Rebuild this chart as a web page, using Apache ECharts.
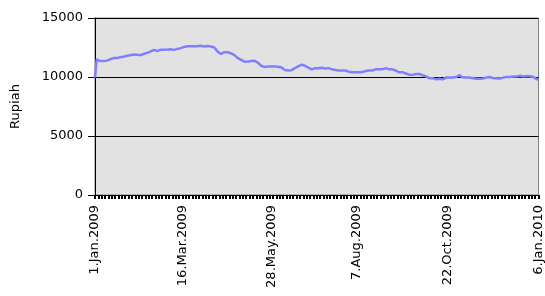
<!DOCTYPE html>
<html>
<head>
<meta charset="utf-8">
<script src="https://cdn.jsdelivr.net/npm/echarts@6/dist/echarts.min.js"></script>
<style>
  html, body { margin: 0; padding: 0; background: #fff; }
  #chart { width: 545px; height: 296px; }
</style>
</head>
<body>
<div id="chart"></div>
<script>
// rupiah per business day, 1 Jan 2009 .. 6 Jan 2010
const rupiah = [
  9950, 11500, 11450, 11350, 11300, 11350, 11400, 11380, 11450, 11500,
  11550, 11600, 11650, 11600, 11700, 11680, 11750, 11720, 11780, 11800,
  11800, 11850, 11820, 11900, 11850, 11880, 11900, 11850, 11900, 11950,
  12000, 12050, 12100, 12150, 12250, 12300, 12250, 12200, 12250, 12300,
  12280, 12300, 12250, 12320, 12300, 12350, 12330, 12300, 12350, 12380,
  12400, 12450, 12500, 12550, 12580, 12600, 12580, 12600, 12620, 12600,
  12580, 12600, 12620, 12650, 12600, 12580, 12600, 12620, 12600, 12580,
  12550, 12500, 12350, 12150, 12000, 11950, 12050, 12100, 12150, 12100,
  12050, 12000, 11950, 11850, 11700, 11600, 11550, 11450, 11350, 11300,
  11300, 11320, 11300, 11350, 11400, 11380, 11300, 11200, 11050, 10950,
  10900, 10850, 10820, 10880, 10850, 10900, 10950, 10900, 10850, 10870,
  10900, 10800, 10700, 10600, 10550, 10550, 10600, 10580, 10650, 10750,
  10850, 10900, 10950, 11050, 11000, 10950, 10900, 10800, 10700, 10650,
  10700, 10750, 10800, 10750, 10700, 10780, 10750, 10720, 10800, 10750,
  10700, 10650, 10700, 10600, 10550, 10550, 10520, 10550, 10500, 10550,
  10550, 10450, 10420, 10400, 10420, 10400, 10420, 10400, 10450, 10420,
  10400, 10500, 10600, 10550, 10500, 10550, 10600, 10650, 10600, 10650,
  10680, 10650, 10700, 10750, 10700, 10650, 10620, 10650, 10600, 10550,
  10450, 10400, 10380, 10400, 10350, 10300, 10280, 10200, 10150, 10180,
  10200, 10250, 10220, 10250, 10200, 10150, 10100, 10050, 9950, 9900,
  9880, 9900, 9850, 9800, 9900, 9850, 9750, 9800, 9850, 9950,
  9900, 9950, 10000, 9950, 10050, 10000, 10100, 10150, 10000, 9950,
  10000, 9950, 9900, 9950, 9850, 9900, 9880, 9850, 9900, 9850,
  9900, 9880, 9900, 9950, 10050, 10000, 9950, 9900, 9850, 9900,
  9950, 9880, 9850, 9950, 9900, 10000, 9850, 10000, 10050, 10050,
  10080, 10050, 10080, 10100, 10080, 10050, 10080, 10080, 10050, 10070,
  10050, 10000, 9850, 9800, 9800
];

const tickLabels = ['1.Jan.2009', '16.Mar.2009', '28.May.2009', '7.Aug.2009', '22.Oct.2009', '6.Jan.2010'];
const yTicks = [0, 5000, 10000, 15000];

const months = ['Jan', 'Feb', 'Mar', 'Apr', 'May', 'Jun', 'Jul', 'Aug', 'Sep', 'Oct', 'Nov', 'Dec'];

// business days starting 1 Jan 2009, one per value
const days = [];
const d = new Date(2009, 0, 1);
while (days.length < rupiah.length) {
  const wd = d.getDay();
  if (wd !== 0 && wd !== 6) {
    days.push(d.getDate() + '.' + months[d.getMonth()] + '.' + d.getFullYear());
  }
  d.setDate(d.getDate() + 1);
}

const chart = echarts.init(document.getElementById('chart'));
const font = 'DejaVu Sans';

chart.setOption({
  animation: false,
  backgroundColor: '#fff',
  grid: {
    left: 95,
    right: 5,
    top: 18,
    bottom: 101,
    show: true,
    backgroundColor: '#e2e2e2',
    borderColor: '#808080',
    borderWidth: 1,
  },
  xAxis: {
    type: 'category',
    data: days,
    boundaryGap: false,
    axisLine: { show: true, onZero: false, lineStyle: { color: '#000', width: 1 } },
    axisTick: {
      show: true,
      interval: i => i % 2 === 0,
      length: 4,
      lineStyle: { color: '#000', width: 2 },
    },
    axisLabel: {
      interval: (i, v) => tickLabels.includes(v),
      rotate: 90,
      margin: 10,
      color: '#000',
      fontFamily: font,
      fontSize: 13,
      showMaxLabel: true,
    },
    splitLine: { show: false },
  },
  yAxis: {
    type: 'value',
    min: yTicks[0],
    max: yTicks[yTicks.length - 1],
    interval: 5000,
    name: 'Rupiah',
    nameLocation: 'middle',
    nameGap: 73,
    nameTextStyle: { color: '#000', fontFamily: font, fontSize: 13 },
    axisLine: { show: true, lineStyle: { color: '#000', width: 1 } },
    axisTick: { show: true, length: 7, lineStyle: { color: '#000' } },
    axisLabel: {
      margin: 12,
      color: '#000',
      fontFamily: font,
      fontSize: 13,
      formatter: v => String(v),
    },
    splitLine: { show: true, lineStyle: { color: '#000', width: 1 } },
  },
  series: [
    {
      type: 'line',
      data: rupiah,
      showSymbol: false,
      lineStyle: { color: '#8080ff', width: 2.5 },
    },
  ],
});
</script>
</body>
</html>
